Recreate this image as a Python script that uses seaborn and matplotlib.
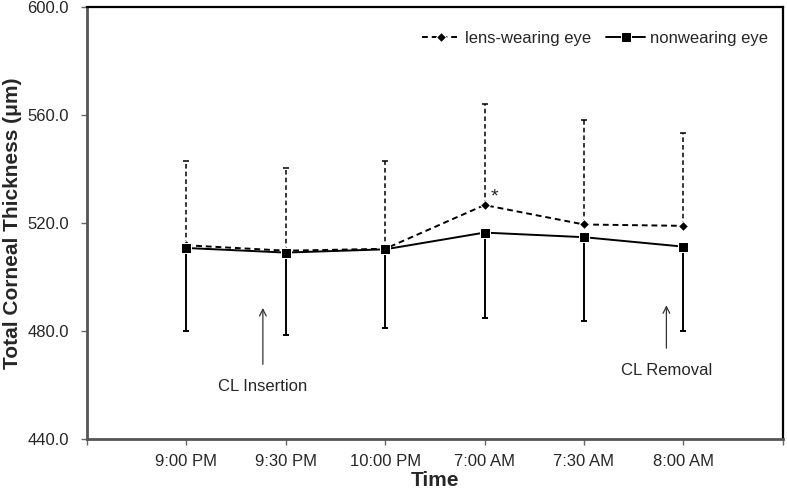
"""
Corneal thickness over time, lens-wearing vs nonwearing eye
"""
import matplotlib.pyplot as plt
import pandas as pd
import seaborn as sns

times = ["9:00 PM", "9:30 PM", "10:00 PM", "7:00 AM", "7:30 AM", "8:00 AM"]
lens_mean = [511.7, 509.7, 510.4, 526.6, 519.4, 518.9]
lens_sd = [31.4, 30.7, 32.4, 37.3, 38.7, 34.5]
nonwear_mean = [510.7, 509.0, 510.2, 516.4, 514.7, 511.2]
nonwear_sd = [30.7, 30.7, 29.3, 31.6, 31.2, 31.4]
series_names = ["lens-wearing eye", "nonwearing eye"]

sns.set_theme(style="white")
plt.rcParams["font.family"] = ["Liberation Sans", "DejaVu Sans"]

pos = list(range(1, len(times) + 1))
df = pd.DataFrame({
    "pos": pos * 2,
    "value": lens_mean + nonwear_mean,
    "series": [series_names[0]] * len(times) + [series_names[1]] * len(times),
})

fig = plt.figure(figsize=(7.87, 4.92), dpi=100)
ax = fig.add_axes([0.1105, 0.108, 0.884, 0.878])

# error bars: lens eye upward (dashed), nonwearing eye downward (solid)
eb = ax.errorbar(pos, lens_mean, yerr=[[0] * len(pos), lens_sd], fmt="none",
                 ecolor="black", elinewidth=1.1, capsize=2.5, capthick=1.1)
eb[2][0].set_linestyle((0, (3, 2)))
ax.errorbar(pos, nonwear_mean, yerr=[nonwear_sd, [0] * len(pos)], fmt="none",
            ecolor="black", elinewidth=1.4, capsize=2.5, capthick=1.4)

sns.lineplot(data=df, x="pos", y="value", hue="series", style="series",
             palette=["black", "black"],
             dashes={series_names[0]: (3, 2), series_names[1]: ""},
             markers={series_names[0]: "D", series_names[1]: "s"},
             markersize=6.5, linewidth=1.4, ax=ax)
for line in ax.get_lines():
    if line.get_marker() == "D":
        line.set_markersize(5)

ax.set_xlim(0, 7)
ax.set_ylim(440, 600)
ax.set_xticks(range(0, 8))
ax.set_xticklabels([""] + times + [""], fontsize=12)
ax.set_yticks([440, 480, 520, 560, 600])
ax.set_yticklabels([f"{v:.1f}" for v in [440, 480, 520, 560, 600]], fontsize=12)
ax.tick_params(axis="both", length=4, width=1, color="#666666", direction="out",
               bottom=True, left=True)
ax.tick_params(axis="x", pad=7)
ax.tick_params(axis="y", pad=9)
ax.set_xlabel("Time", fontsize=15, fontweight="bold", labelpad=1)
ax.set_ylabel("Total Corneal Thickness (\u03bcm)", fontsize=15, fontweight="bold",
              labelpad=4)

for side in ["top", "right"]:
    ax.spines[side].set_color("black")
    ax.spines[side].set_linewidth(1.6)
for side in ["left", "bottom"]:
    ax.spines[side].set_color("#555555")
    ax.spines[side].set_linewidth(2.0)

ax.annotate("CL Insertion", xy=(1.77, 488.5), xytext=(1.77, 459.5),
            ha="center", va="center", fontsize=12,
            arrowprops=dict(arrowstyle="->", color="#333333", lw=0.9,
                            shrinkA=8, shrinkB=0))
ax.annotate("CL Removal", xy=(5.83, 489.5), xytext=(5.83, 465.5),
            ha="center", va="center", fontsize=12,
            arrowprops=dict(arrowstyle="->", color="#333333", lw=0.9,
                            shrinkA=8, shrinkB=0))
ax.text(4.1, 526.5, "*", fontsize=14, ha="center", va="bottom")

leg = ax.legend(loc="upper right", bbox_to_anchor=(1.0, 0.98), ncol=2,
                frameon=False, fontsize=12, handlelength=2.3, handletextpad=0.3,
                columnspacing=0.9, title=None)

fig.savefig("out.png", dpi=100)
